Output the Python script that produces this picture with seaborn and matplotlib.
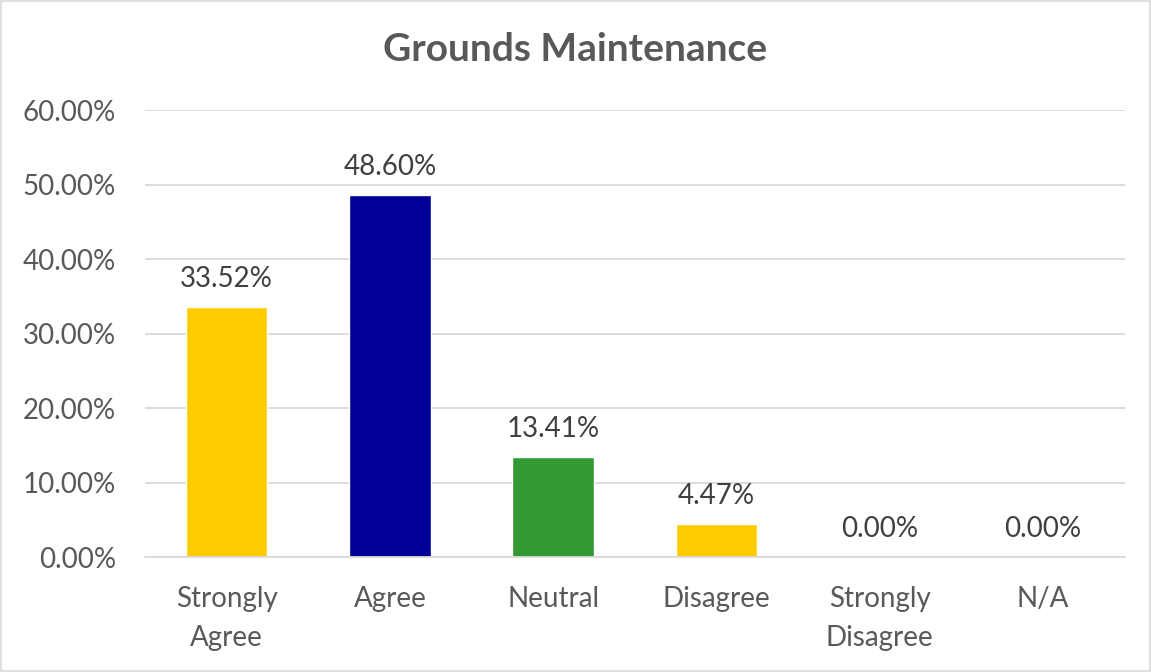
import matplotlib
matplotlib.use("Agg")
import matplotlib.pyplot as plt
import seaborn as sns
import pandas as pd
from matplotlib.ticker import FuncFormatter, MultipleLocator
from matplotlib.patches import Rectangle

categories = ["Strongly\nAgree", "Agree", "Neutral", "Disagree", "Strongly\nDisagree", "N/A"]
values = [33.52, 48.60, 13.41, 4.47, 0.00, 0.00]
colors = ["#FFCC00", "#000099", "#339933", "#FFCC00", "#FFCC00", "#FFCC00"]
title = "Grounds Maintenance"

df = pd.DataFrame({"cat": categories, "val": values})

sns.set_theme(style="white")
plt.rcParams['font.family'] = ['Lato', 'DejaVu Sans']

fig = plt.figure(figsize=(11.51, 6.72), dpi=100)
ax = fig.add_axes([0.126, 0.171, 0.851, 0.665])
sns.barplot(data=df, x="cat", y="val", hue="cat", palette=colors, legend=False,
            width=0.5, ax=ax, saturation=1)

ax.set_ylim(0, 60)
ax.yaxis.set_major_locator(MultipleLocator(10))
ax.yaxis.set_major_formatter(FuncFormatter(lambda v, p: f"{v:.2f}%"))
ax.grid(axis="y", color="#D9D9D9", linewidth=1.3)
ax.set_axisbelow(True)
for s in ["top", "right", "left"]:
    ax.spines[s].set_visible(False)
ax.spines["bottom"].set_color("#D9D9D9")
ax.spines["bottom"].set_linewidth(1.3)
ax.set_xlabel("")
ax.set_ylabel("")
ax.tick_params(axis="both", length=0, labelsize=20, colors="#595959")
ax.tick_params(axis="y", pad=21)
ax.tick_params(axis="x", pad=21)
for lbl in ax.get_xticklabels():
    lbl.set_linespacing(1.6)

for i, v in enumerate(values):
    ax.annotate(f"{v:.2f}%", (i, v), xytext=(0, 11), textcoords="offset points",
                ha="center", va="bottom", fontsize=20, color="#404040")

fig.text(0.5, 0.926, title, ha="center", va="center", fontsize=28,
         fontweight="bold", color="#595959")
fig.patches.append(Rectangle((0.0005, 0.0008), 0.999, 0.998, transform=fig.transFigure,
                             fill=False, edgecolor="#D9D9D9", linewidth=1.2))
fig.savefig("out.png", dpi=100, facecolor="white")
